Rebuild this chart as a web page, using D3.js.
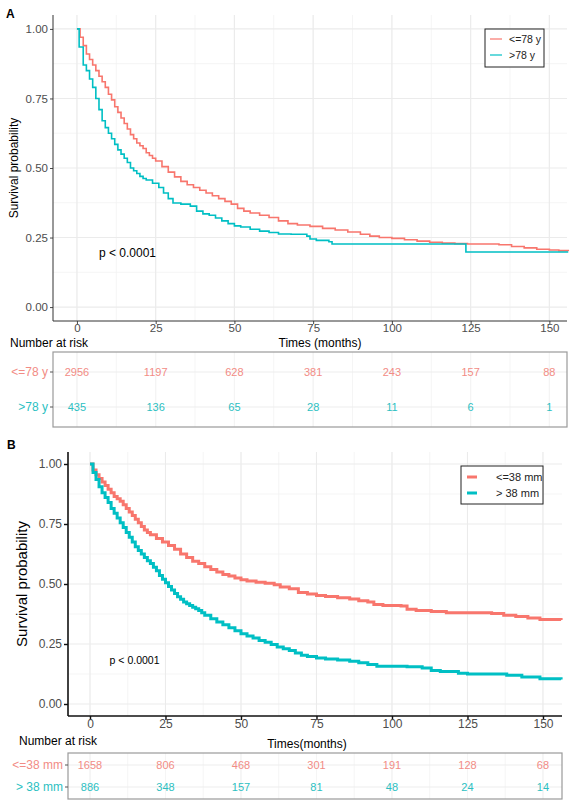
<!DOCTYPE html>
<html><head><meta charset="utf-8">
<script src="https://cdn.jsdelivr.net/npm/d3@7"></script>
<style>body{margin:0;background:#fff}svg{display:block;font-family:"Liberation Sans",Arial,sans-serif}</style>
</head><body><svg id="c" width="578" height="808"></svg>
<script>
// ---------- DATA ----------
const xTicks = [0,25,50,75,100,125,150];
const yTicks = [0,0.25,0.5,0.75,1];
const yTickLabels = ["0.00","0.25","0.50","0.75","1.00"];

// Panel A: age groups
const groupsA = ["<=78 y", ">78 y"];
const timeA_le78 = [0,1,2,3,4,5,6,7,8,9,10,11,12,13,14,15,16,17,18,19,20,21,22,23,24,25,27,29,31,33,35,37,39,41,43,45,47,49,51,53,55,58,61,64,67,70,74,78,82,86,90,93,96,100,104,108,112,116,120,124,134,138,142,146,150,153,156];
const survA_le78 = [1,0.97,0.94,0.91,0.89,0.87,0.85,0.83,0.81,0.79,0.765,0.745,0.72,0.70,0.68,0.66,0.64,0.62,0.605,0.59,0.58,0.57,0.555,0.545,0.535,0.525,0.505,0.485,0.468,0.452,0.44,0.43,0.42,0.41,0.40,0.39,0.38,0.37,0.355,0.345,0.338,0.33,0.322,0.31,0.30,0.295,0.29,0.283,0.277,0.27,0.262,0.255,0.25,0.247,0.242,0.237,0.233,0.23,0.228,0.227,0.224,0.218,0.213,0.208,0.205,0.203,0.202];
const timeA_gt78 = [0,0.7,2,3,4,5,6,7,8,9,10,11,12,13,14,15,16,17,18,19,20,21,22,24,26,27.5,29,30.5,33,36,38,40,42,44,46,48,50,52,55,58,61,64,68,73,74,76,80,81,123.5,156];
const survA_gt78 = [1,0.935,0.87,0.85,0.82,0.79,0.75,0.71,0.67,0.645,0.625,0.605,0.585,0.565,0.55,0.535,0.52,0.50,0.49,0.48,0.47,0.462,0.457,0.445,0.43,0.41,0.39,0.374,0.37,0.363,0.345,0.335,0.33,0.32,0.31,0.30,0.292,0.288,0.28,0.273,0.268,0.263,0.262,0.255,0.245,0.24,0.235,0.227,0.198,0.198];
const riskA_le78 = [2956,1197,628,381,243,157,88];
const riskA_gt78 = [435,136,65,28,11,6,1];

// Panel B: size groups
const groupsB = ["<=38 mm", "> 38 mm"];
const timeB_le38 = [0,1,2,3,4,5,6,7,8,9,10,11,12,13,14,15,16,17,18,19,20,22,24,26,28,30,32,34,36,38,40,42,44,46,48,50,52,55,58,61,63,66,69,72,75,78,82,86,89,92,94,97,103,105,108,113,118,133,137,141,145,149,156];
const survB_le38 = [1,0.975,0.955,0.94,0.925,0.91,0.895,0.88,0.865,0.855,0.845,0.83,0.815,0.80,0.785,0.77,0.755,0.74,0.725,0.715,0.705,0.69,0.675,0.66,0.645,0.625,0.61,0.595,0.585,0.572,0.56,0.55,0.54,0.533,0.525,0.518,0.512,0.507,0.503,0.497,0.488,0.48,0.465,0.458,0.452,0.448,0.443,0.437,0.43,0.425,0.415,0.41,0.408,0.395,0.39,0.385,0.38,0.377,0.37,0.365,0.358,0.352,0.35];
const timeB_gt38 = [0,1,2,3,4,5,6,7,8,9,10,11,12,13,14,15,16,17,18,19,20,21,22,23,24,25,26,27,28,29,30,31,32,33,34,35,36,37,38,40,42,44,46,48,50,52,54,56,58,60,62,64,66,68,70,72,75,78,82,86,89,92,95,105,110,113,116,122,125,138,143,149,156];
const survB_gt38 = [1,0.965,0.935,0.905,0.88,0.86,0.84,0.815,0.795,0.775,0.755,0.735,0.715,0.695,0.675,0.655,0.64,0.625,0.61,0.597,0.585,0.57,0.555,0.535,0.52,0.505,0.49,0.475,0.46,0.447,0.436,0.425,0.418,0.41,0.403,0.397,0.39,0.38,0.37,0.355,0.342,0.33,0.318,0.305,0.293,0.283,0.275,0.265,0.257,0.248,0.238,0.23,0.223,0.213,0.203,0.198,0.192,0.187,0.183,0.178,0.172,0.165,0.157,0.155,0.15,0.14,0.135,0.128,0.125,0.12,0.113,0.105,0.102];
const riskB_le38 = [1658,806,468,301,191,128,68];
const riskB_gt38 = [886,348,157,81,48,24,14];

const colRed = "#F8766D", colTeal = "#00BFC4";
const colRedTxt = "#F28C85", colTealTxt = "#2CBFC2";

// ---------- DRAW ----------
const svg = d3.select("#c");
const font = '"Liberation Sans",Arial,sans-serif';

function panel(cfg){
  const g = svg.append("g");
  const x = d3.scaleLinear().domain(cfg.xDom).range([cfg.left, cfg.right]);
  const y = d3.scaleLinear().domain([-0.05,1.05]).range([cfg.bottom, cfg.top]);
  // grid
  const minorX = d3.range(-12.5, 170, 12.5).filter(v => x(v) > cfg.left && x(v) < cfg.right);
  const minorY = [0.125,0.375,0.625,0.875];
  g.selectAll(".mgx").data(minorX).join("line").attr("x1",d=>x(d)).attr("x2",d=>x(d)).attr("y1",cfg.top).attr("y2",cfg.bottom).attr("stroke","#f3f3f3").attr("stroke-width",0.8);
  g.selectAll(".mgy").data(minorY).join("line").attr("y1",d=>y(d)).attr("y2",d=>y(d)).attr("x1",cfg.left).attr("x2",cfg.right).attr("stroke","#f3f3f3").attr("stroke-width",0.8);
  g.selectAll(".gx").data(xTicks).join("line").attr("x1",d=>x(d)).attr("x2",d=>x(d)).attr("y1",cfg.top).attr("y2",cfg.bottom).attr("stroke","#ebebeb").attr("stroke-width",1.1);
  g.selectAll(".gy").data(yTicks).join("line").attr("y1",d=>y(d)).attr("y2",d=>y(d)).attr("x1",cfg.left).attr("x2",cfg.right).attr("stroke","#ebebeb").attr("stroke-width",1.1);
  // curves
  const line = d3.line().x(d=>x(d[0])).y(d=>y(d[1])).curve(d3.curveStepAfter);
  cfg.series.forEach(s=>{
    g.append("path").datum(d3.zip(s.t, s.s)).attr("d", line).attr("fill","none").attr("stroke", s.color).attr("stroke-width", cfg.lw);
  });
  // axes
  const ya = d3.axisLeft(y).tickValues(yTicks).tickFormat((d,i)=>yTickLabels[i]).tickSize(cfg.tick).tickPadding(2);
  const gy = g.append("g").attr("transform",`translate(${cfg.left},0)`).call(ya);
  const xa = d3.axisBottom(x).tickValues(xTicks).tickSize(cfg.tick).tickPadding(1);
  const gx = g.append("g").attr("transform",`translate(0,${cfg.bottom})`).call(xa);
  [gx,gy].forEach(a=>{
    a.select(".domain").attr("stroke",cfg.axisCol).attr("stroke-width",cfg.axisW);
    a.selectAll(".tick line").attr("stroke",cfg.axisCol).attr("stroke-width",cfg.axisW*0.9);
    a.selectAll("text").attr("fill","#4d4d4d").style("font-family",font).style("font-size",cfg.tickFs+"px");
  });
  gx.selectAll("text").attr("dy","0.62em");
  gx.select(".domain").attr("d",`M${cfg.left},0H${cfg.right}`);
  gy.select(".domain").attr("d",`M0,${cfg.top}V${cfg.bottom}`);
  // y title
  svg.append("text").attr("transform",`translate(${cfg.yTitleX},${(cfg.top+cfg.bottom)/2}) rotate(-90)`).attr("text-anchor","middle").style("font-size",cfg.yTitleFs+"px").style("font-family",font).attr("fill","#000").text("Survival probability");
  // p-value
  svg.append("text").attr("x",x(cfg.pPos[0])).attr("y",y(cfg.pPos[1])).attr("dy","0.35em").style("font-size",cfg.pFs+"px").style("font-family",font).attr("fill","#000").text("p < 0.0001");
  // panel letter
  svg.append("text").attr("x",cfg.letterXY[0]).attr("y",cfg.letterXY[1]).style("font-size","12px").style("font-weight","bold").style("font-family",font).text(cfg.letter);
  // legend
  const L = cfg.legend;
  const lg = svg.append("g");
  lg.append("rect").attr("x",L.x).attr("y",L.y).attr("width",L.w).attr("height",L.h).attr("fill","#fff").attr("stroke","#222").attr("stroke-width",1);
  cfg.series.forEach((s,i)=>{
    const yy = L.y + L.row0 + i*L.dy;
    lg.append("line").attr("x1",L.x+L.kx).attr("x2",L.x+L.kx+L.kw).attr("y1",yy).attr("y2",yy).attr("stroke",s.color).attr("stroke-width",L.klw);
    lg.append("text").attr("x",L.x+L.tx).attr("y",yy).attr("dy","0.35em").style("font-size",L.fs+"px").style("font-family",font).attr("fill","#222").text(s.name);
  });
  // x title & number at risk
  svg.append("text").attr("x",cfg.xTitleX).attr("y",cfg.xTitleY).attr("text-anchor","middle").style("font-size","12px").style("font-family",font).text(cfg.xTitle);
  svg.append("text").attr("x",cfg.nrX).attr("y",cfg.nrY).style("font-size","12px").style("font-family",font).text("Number at risk");
  // risk table
  const R = cfg.risk;
  const rg = svg.append("g");
  const ry = d3.scalePoint().domain(cfg.series.map(s=>s.name)).range([R.top+R.pad, R.bottom-R.pad]);
  rg.selectAll(".rgx").data(xTicks).join("line").attr("x1",d=>x(d)).attr("x2",d=>x(d)).attr("y1",R.top).attr("y2",R.bottom).attr("stroke","#ededed");
  rg.selectAll(".rgmx").data(minorX).join("line").attr("x1",d=>x(d)).attr("x2",d=>x(d)).attr("y1",R.top).attr("y2",R.bottom).attr("stroke","#f5f5f5");
  rg.selectAll(".rgy").data(cfg.series).join("line").attr("x1",cfg.left).attr("x2",cfg.right).attr("y1",d=>ry(d.name)).attr("y2",d=>ry(d.name)).attr("stroke","#ededed");
  rg.append("rect").attr("x",cfg.left).attr("y",R.top).attr("width",cfg.right-cfg.left).attr("height",R.bottom-R.top).attr("fill","none").attr("stroke","#9a9a9a").attr("stroke-width",1.2);
  cfg.series.forEach(s=>{
    const yy = ry(s.name);
    rg.append("line").attr("x1",cfg.left-3).attr("x2",cfg.left).attr("y1",yy).attr("y2",yy).attr("stroke","#555");
    rg.append("text").attr("x",cfg.left-5).attr("y",yy).attr("dy","0.35em").attr("text-anchor","end").style("font-size","12px").style("font-family",font).attr("fill",s.txt).text(s.name);
    rg.selectAll(null).data(s.risk).join("text").attr("x",(d,i)=>x(xTicks[i])).attr("y",yy).attr("dy","0.35em").attr("text-anchor","middle").style("font-size",R.fs+"px").style("font-family",font).attr("fill",s.txt).text(d=>d);
  });
}

panel({
  letter:"A", letterXY:[6,18],
  left:53, right:567, top:15, bottom:321, xDom:[-7.6,155.6],
  lw:1.6, tick:3, axisCol:"#333", axisW:1, tickFs:11.5,
  yTitleX:18, yTitleFs:12, pPos:[7,0.195], pFs:12,
  xTitle:"Times (months)", xTitleX:320, xTitleY:347, nrX:10, nrY:347,
  legend:{x:485,y:29,w:59,h:38,row0:10,dy:16,kx:5,kw:12,klw:1.2,tx:24,fs:10.5},
  risk:{top:352,bottom:427,pad:20,fs:11},
  series:[
    {name:groupsA[0], t:timeA_le78, s:survA_le78, color:colRed, txt:colRedTxt, risk:riskA_le78},
    {name:groupsA[1], t:timeA_gt78, s:survA_gt78, color:colTeal, txt:colTealTxt, risk:riskA_gt78}
  ]
});

panel({
  letter:"B", letterXY:[7,449],
  left:68, right:562, top:452, bottom:716, xDom:[-7.28,156.3],
  lw:3, tick:4, axisCol:"#111", axisW:1.6, tickFs:12,
  yTitleX:27, yTitleFs:15, pPos:[6.5,0.18], pFs:10.5,
  xTitle:"Times(months)", xTitleX:307, xTitleY:748, nrX:19, nrY:745,
  legend:{x:461,y:466,w:82,h:38,row0:11,dy:16,kx:6,kw:10,klw:3,tx:35,fs:11},
  risk:{top:753,bottom:799,pad:12,fs:11},
  series:[
    {name:groupsB[0], t:timeB_le38, s:survB_le38, color:colRed, txt:colRedTxt, risk:riskB_le38},
    {name:groupsB[1], t:timeB_gt38, s:survB_gt38, color:colTeal, txt:colTealTxt, risk:riskB_gt38}
  ]
});
</script></body></html>
